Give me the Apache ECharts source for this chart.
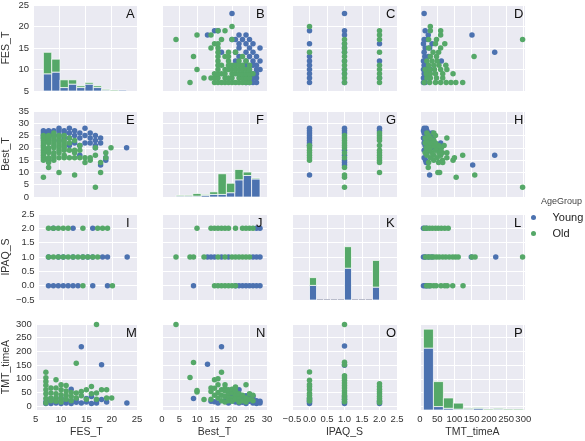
<!DOCTYPE html>
<html>
<head>
<meta charset="utf-8">
<script src="https://cdn.jsdelivr.net/npm/echarts@6/dist/echarts.min.js"></script>
<style>
  html, body { margin: 0; padding: 0; background: #fff; }
  #chart { width: 585px; height: 441px; }
</style>
</head>
<body>
<div id="chart"></div>
<script>
const variables = ['FES_T', 'Best_T', 'IPAQ_S', 'TMT_timeA'];
const panelLetters = ['A', 'B', 'C', 'D', 'E', 'F', 'G', 'H', 'I', 'J', 'K', 'L', 'M', 'N', 'O', 'P'];
const groupNames = ['Young', 'Old'];

// tick labels per variable
const fesTicks = [5, 10, 15, 20, 25];
const bestTicks = [0, 5, 10, 15, 20, 25, 30, 35];
const bestXTicks = [0, 5, 10, 15, 20, 25, 30];
const ipaqTicks = [-0.5, 0, 0.5, 1, 1.5, 2, 2.5];
const tmtTicks = [0, 50, 100, 150, 200, 250, 300];

// pair data, [first variable, second variable]
const youngFesBest = [
  [7, 27], [7, 26], [7, 25], [7, 24], [8, 27], [8, 26], [8, 24], [9, 27], [9, 26], [9, 25],
  [10, 28], [10, 27], [10, 25], [10, 23], [11, 27], [11, 26], [11, 24], [12, 28], [12, 26], [12, 24],
  [12, 21], [13, 27], [13, 25], [13, 22], [14, 26], [14, 24], [14, 21], [14, 17], [15, 28], [15, 25],
  [15, 22], [16, 26], [16, 24], [16, 22], [17, 25], [17, 23], [17, 21], [17, 20], [18, 24], [18, 22],
  [18, 13], [19, 15], [19, 16], [23, 20]
];
const oldFesBest = [
  [7, 8], [7, 15], [7, 16], [7, 17], [7, 18], [7, 19], [7, 20], [7, 21], [7, 22], [7, 23], [7, 24], [7, 25],
  [8, 12], [8, 14], [8, 15], [8, 16], [8, 18], [8, 19], [8, 20], [8, 22], [8, 23], [8, 24], [8, 25],
  [9, 15], [9, 16], [9, 17], [9, 18], [9, 20], [9, 21], [9, 22], [9, 23], [9, 24], [9, 25], [9, 26],
  [10, 10], [10, 16], [10, 18], [10, 19], [10, 20], [10, 21], [10, 22], [10, 23], [10, 24], [10, 25],
  [11, 16], [11, 17], [11, 19], [11, 20], [11, 21], [11, 22], [11, 23], [11, 25],
  [12, 16], [12, 19], [12, 22], [12, 24], [13, 9], [13, 16], [13, 18], [13, 19], [13, 23],
  [14, 16], [14, 19], [14, 21], [15, 14], [15, 16], [16, 15], [16, 16], [17, 4], [17, 17], [17, 20],
  [18, 10], [18, 14], [19, 18], [19, 16], [20, 20]
];
const youngFesIpaq = [
  [7, 0], [8, 0], [9, 0], [10, 0], [11, 0], [12, 0], [13, 0], [16, 0], [19, 0],
  [7, 1], [9, 1], [10, 1], [12, 1], [14, 1], [15, 1], [16, 1], [18, 1], [19, 1], [23, 1],
  [8, 2], [12, 2], [16, 2]
];
const oldFesIpaq = [
  [14, 0], [20, 0],
  [7, 1], [8, 1], [9, 1], [10, 1], [11, 1], [12, 1], [13, 1], [14, 1], [15, 1], [16, 1], [17, 1],
  [7, 2], [8, 2], [9, 2], [10, 2], [11, 2], [14, 2], [17, 2], [18, 2], [19, 2]
];
const youngFesTmt = [
  [7, 10], [7, 15], [8, 10], [8, 18], [8, 28], [9, 12], [9, 20], [10, 10], [10, 15], [10, 30],
  [11, 12], [11, 22], [12, 10], [12, 18], [12, 62], [13, 14], [13, 25], [14, 12], [14, 217],
  [15, 15], [15, 28], [16, 10], [16, 35], [17, 12], [17, 20], [18, 24], [18, 151], [19, 15], [23, 12]
];
const oldFesTmt = [
  [7, 124], [7, 104], [7, 90], [7, 76], [7, 60], [7, 45], [7, 28], [7, 12],
  [8, 66], [8, 48], [8, 30], [8, 20], [9, 96], [9, 66], [9, 45], [9, 30], [9, 18],
  [10, 78], [10, 60], [10, 42], [10, 28], [10, 15], [11, 75], [11, 55], [11, 40], [11, 25],
  [12, 50], [12, 35], [12, 20], [13, 157], [13, 48], [13, 30], [14, 54], [14, 38],
  [15, 60], [15, 25], [16, 72], [16, 45], [17, 298], [17, 48], [17, 25], [18, 60],
  [19, 60], [19, 30], [20, 30]
];
const youngBestIpaq = [
  [9, 0], [21, 0], [22, 0], [23, 0], [24, 0], [25, 0], [26, 0], [27, 0], [28, 0],
  [13, 1], [14, 1], [15, 1], [17, 1], [19, 1], [26, 1], [27, 1], [28, 1],
  [27, 2], [28, 2]
];
const oldBestIpaq = [
  [15, 0], [16, 0], [17, 0], [18, 0], [19, 0], [20, 0], [21, 0],
  [4, 1], [8, 1], [9, 1], [12, 1], [16, 1], [18, 1], [20, 1], [21, 1], [22, 1], [23, 1], [24, 1], [25, 1],
  [10, 2], [14, 2], [15, 2], [16, 2], [17, 2], [18, 2], [19, 2], [21, 2], [23, 2], [24, 2], [25, 2], [26, 2]
];
const youngBestTmt = [
  [17, 217], [13, 153], [9, 28], [15, 16], [16, 12], [14, 18], [19, 12], [18, 20], [20, 25], [20, 40],
  [21, 15], [21, 35], [22, 12], [22, 20], [22, 60], [23, 30], [23, 14], [24, 22], [24, 10], [24, 38],
  [25, 18], [25, 30], [26, 12], [26, 25], [26, 35], [27, 10], [27, 20], [28, 12], [28, 18]
];
const oldBestTmt = [
  [4, 298], [9, 159], [17, 124], [8, 105], [10, 57], [10, 52], [12, 24], [14, 54], [14, 66], [14, 25],
  [15, 96], [15, 40], [15, 65], [16, 78], [16, 50], [16, 30], [16, 100], [17, 60], [17, 40], [17, 20],
  [18, 78], [18, 55], [18, 35], [18, 15], [18, 65], [19, 45], [19, 28], [19, 60], [19, 20],
  [20, 50], [20, 30], [20, 18], [20, 62], [21, 40], [21, 25], [21, 55], [21, 70], [22, 30], [22, 45], [22, 15],
  [23, 20], [23, 40], [24, 78], [24, 30], [24, 15], [25, 25], [25, 45], [26, 20], [26, 40]
];
const youngIpaqTmt = [
  [0, 10], [0, 15], [0, 20], [0, 28], [1, 10], [1, 15], [1, 25], [1, 35], [1, 149], [1, 220],
  [2, 10], [2, 18]
];
const oldIpaqTmt = [
  [0, 125], [0, 95], [0, 79], [0, 72], [0, 61], [0, 47], [0, 40], [0, 31], [0, 25], [0, 19],
  [1, 298], [1, 160], [1, 151], [1, 111], [1, 103], [1, 95], [1, 85], [1, 75], [1, 66], [1, 56],
  [1, 48], [1, 40], [1, 32], [1, 24], [1, 16],
  [2, 82], [2, 72], [2, 62], [2, 53], [2, 45], [2, 36], [2, 28], [2, 20], [2, 13]
];

// histogram bins: start, width; counts on a shared diagonal scale
const fesBins = [7, 1.6];
const youngFesHist = [20, 22, 4, 8, 4, 8, 4, 1, 0, 1];
const oldFesHist = [25, 15, 9, 5, 2, 2, 2, 1, 1, 0];
const bestBins = [4, 2.4];
const youngBestHist = [1, 1, 1, 2, 3, 3, 5, 20, 25, 21];
const oldBestHist = [1, 1, 3, 1, 3, 24, 11, 12, 4, 1];
const ipaqBins = [0, 0.2];
const youngIpaqHist = [17, 0, 0, 0, 0, 37, 0, 0, 0, 15];
const oldIpaqHist = [9, 0, 0, 0, 0, 25, 0, 0, 0, 31];
const tmtBins = [10, 29];
const youngTmtHist = [72, 4, 2, 1, 1, 2, 0, 1, 0, 0];
const oldTmtHist = [22, 29, 12, 7, 1, 1, 1, 1, 1, 1];
const histMax = 100;

const pairData = {
  '0-1': [youngFesBest, oldFesBest],
  '0-2': [youngFesIpaq, oldFesIpaq],
  '0-3': [youngFesTmt, oldFesTmt],
  '1-2': [youngBestIpaq, oldBestIpaq],
  '1-3': [youngBestTmt, oldBestTmt],
  '2-3': [youngIpaqTmt, oldIpaqTmt]
};
const histData = [
  [fesBins, youngFesHist, oldFesHist],
  [bestBins, youngBestHist, oldBestHist],
  [ipaqBins, youngIpaqHist, oldIpaqHist],
  [tmtBins, youngTmtHist, oldTmtHist]
];

const colors = ['#4c72b0', '#55a868'];
const font = 'Liberation Sans';
const gridLeft = [32, 162, 292, 420];
const gridTop = [5, 111, 214, 324];
const gridW = 105;
const gridH = 86;

const xRange = [[5, 25, fesTicks], [0, 30, bestXTicks], [-0.5, 2.5, ipaqTicks], [0, 305, tmtTicks]];
const yRange = [[5, 25, fesTicks], [0, 35, bestTicks], [-0.5, 2.5, ipaqTicks], [-14, 300, tmtTicks]];

const fmt = (v, i) => {
  if (i === 2) return (v < 0 ? '\u2212' : '') + Math.abs(v).toFixed(1);
  return String(v);
};

const grid = [];
const xAxis = [];
const yAxis = [];
const series = [];
const graphic = [];

function axisCommon(range, varIdx, showLabel) {
  return {
    type: 'value',
    min: range[0],
    max: range[1],
    axisLine: { show: false },
    axisTick: { show: false, customValues: range[2] },
    axisLabel: {
      show: showLabel,
      customValues: range[2],
      formatter: (v) => fmt(v, varIdx),
      color: '#333',
      fontSize: 9.5,
      fontFamily: font,
      margin: 4
    },
    splitLine: { show: true, lineStyle: { color: '#fff', width: 1 } },
    nameTextStyle: { fontSize: 10.5, color: '#333', fontFamily: font }
  };
}

for (let r = 0; r < 4; r++) {
  for (let c = 0; c < 4; c++) {
    const idx = r * 4 + c;
    grid.push({
      left: gridLeft[c], top: gridTop[r], width: gridW, height: gridH,
      show: true, backgroundColor: '#eaeaf2', borderWidth: 0
    });
    xAxis.push(Object.assign(axisCommon(xRange[c], c, r === 3), {
      gridIndex: idx,
      name: r === 3 ? variables[c] : '',
      nameLocation: 'middle',
      nameGap: 17
    }));
    yAxis.push(Object.assign(axisCommon(yRange[r], r, c === 0), {
      gridIndex: idx,
      name: c === 0 ? variables[r] : '',
      nameLocation: 'middle',
      nameGap: 21
    }));

    graphic.push({
      type: 'text',
      z: 100,
      left: gridLeft[c] + gridW - 11,
      top: gridTop[r] + 3,
      style: { text: panelLetters[idx], fontSize: 13, fontFamily: font, fill: '#111' }
    });

    if (r === c) continue;
    const key = Math.min(r, c) + '-' + Math.max(r, c);
    const swap = c > r;
    pairData[key].forEach((arr, g) => {
      series.push({
        name: groupNames[g],
        type: 'scatter',
        xAxisIndex: idx,
        yAxisIndex: idx,
        symbolSize: 5.5,
        itemStyle: { color: colors[g], opacity: 1 },
        silent: true,
        data: arr.map((p) => (swap ? [p[1], p[0]] : [p[0], p[1]]))
      });
    });
  }
}

// diagonal histograms on hidden count axes
for (let d = 0; d < 4; d++) {
  const idx = d * 5;
  const yIdx = yAxis.length;
  yAxis.push({ gridIndex: idx, type: 'value', min: 0, max: histMax, show: false, splitLine: { show: false } });
  const [bins, young, old] = histData[d];
  const rows = [[], []];
  young.forEach((y, k) => {
    const x0 = bins[0] + k * bins[1];
    const x1 = x0 + bins[1];
    rows[0].push([x0, x1, 0, y]);
    rows[1].push([x0, x1, y, y + old[k]]);
  });
  rows.forEach((data, g) => {
    series.push({
      name: groupNames[g],
      type: 'custom',
      xAxisIndex: idx,
      yAxisIndex: yIdx,
      silent: true,
      data: data,
      renderItem: (params, api) => {
        const p0 = api.coord([api.value(0), api.value(2)]);
        const p1 = api.coord([api.value(1), api.value(3)]);
        const h = p0[1] - p1[1];
        if (h <= 0.01) {
          if (g === 0 && api.value(3) === 0 && old[params.dataIndex] === 0) {
            return {
              type: 'rect',
              shape: { x: p0[0] + 0.5, y: p0[1] - 1, width: p1[0] - p0[0] - 1, height: 1 },
              style: { fill: '#b9bccb' }
            };
          }
          return null;
        }
        return {
          type: 'rect',
          shape: { x: p0[0], y: p1[1], width: p1[0] - p0[0], height: h },
          style: { fill: colors[g], stroke: '#fff', lineWidth: 0.7 }
        };
      }
    });
  });
}

graphic.push({
  type: 'text', left: 541, top: 197,
  style: { text: 'AgeGroup', fontSize: 9, fontFamily: font, fill: '#444' }
});

const chart = echarts.init(document.getElementById('chart'), null, { renderer: 'canvas' });
chart.setOption({
  animation: false,
  backgroundColor: '#fff',
  grid, xAxis, yAxis, series, graphic,
  legend: {
    data: [
      { name: 'Young', itemStyle: { color: colors[0] } },
      { name: 'Old', itemStyle: { color: colors[1] } }
    ],
    orient: 'vertical',
    left: 526,
    top: 207,
    icon: 'circle',
    itemWidth: 28,
    itemHeight: 5,
    itemGap: 5,
    selectedMode: false,
    textStyle: { fontSize: 11, color: '#222', fontFamily: font }
  }
});
</script>
</body>
</html>
